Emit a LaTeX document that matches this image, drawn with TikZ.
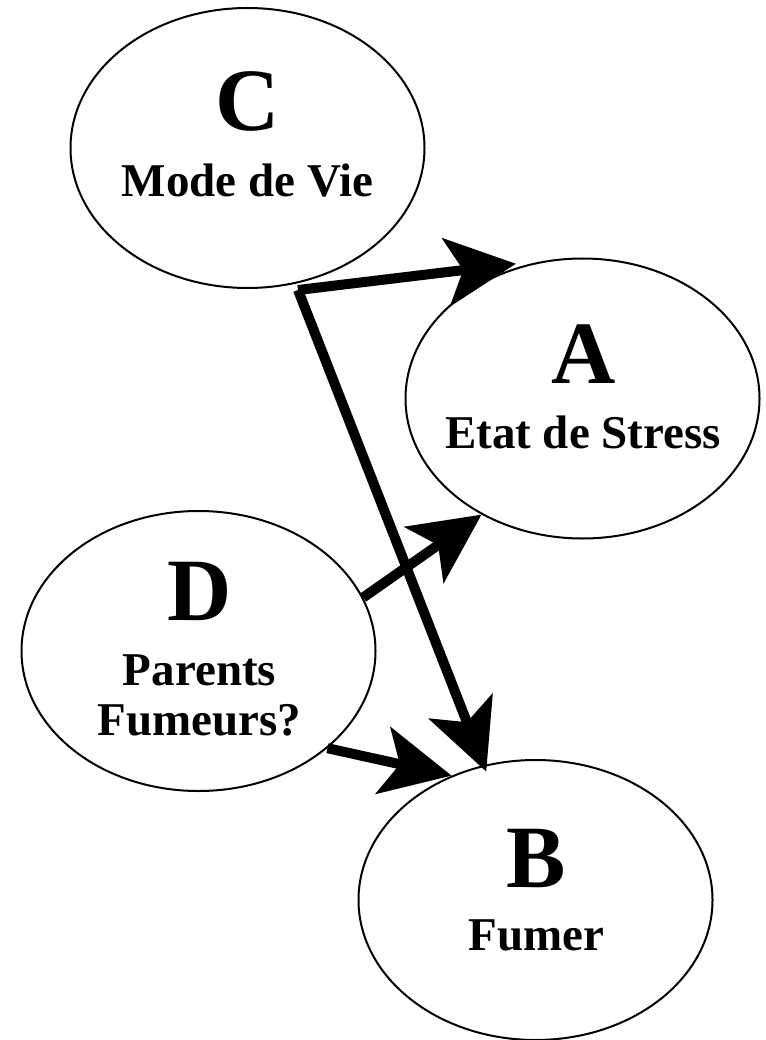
\documentclass[tikz,border=0pt]{standalone}
\usepackage{fontspec}
\setmainfont{Liberation Serif}
\usetikzlibrary{shapes.geometric,arrows.meta}

\begin{document}
\begin{tikzpicture}[x=1pt,y=-1pt,
  bubble/.style={ellipse,draw,line width=2pt,inner sep=0pt,
                 minimum width=354pt,minimum height=280pt},
  letter/.style={anchor=base,inner sep=0pt,
                 font=\fontsize{89}{89}\selectfont\bfseries},
  caption/.style={anchor=base,inner sep=0pt,
                  font=\fontsize{47}{50}\selectfont\bfseries},
  link/.style={line width=10pt,
               -{Stealth[length=70pt,width=68pt,inset=17pt]}}]
  \useasboundingbox (0,0) rectangle (765,1040);

  % the four variables
  \node[bubble] (C) at (247.5,148) {};
  \node[bubble] (A) at (582.5,398.5) {};
  \node[bubble] (D) at (198.5,651) {};
  \node[bubble] (B) at (535.5,900) {};

  % their labels
  \node[letter]  (Cl) at (248,131) {C};
  \node[caption] (Ct) at (247.5,197) {Mode de Vie};
  \node[letter]  (Al) at (584,383) {A};
  \node[caption] (At) at (583,448) {Etat de Stress};
  \node[letter]  (Dl) at (199.5,620) {D};
  \node[caption] (Dt1) at (199.5,685) {Parents};
  \node[caption] (Dt2) at (199.5,735) {Fumeurs?};
  \node[letter]  (Bl) at (536.5,887) {B};
  \node[caption] (Bt) at (536.5,950) {Fumer};

  % causal links
  \coordinate (fork) at (298,290);
  \draw[link] (fork) -- ([yshift=4pt]A.117);
  \draw[link] (fork) -- ([shift={(2.5pt,-6.5pt)}]B.111);
  \draw[link] (D.18) -- (A.229);
  \draw[link] (D.323) -- (B.124);
\end{tikzpicture}
\end{document}
